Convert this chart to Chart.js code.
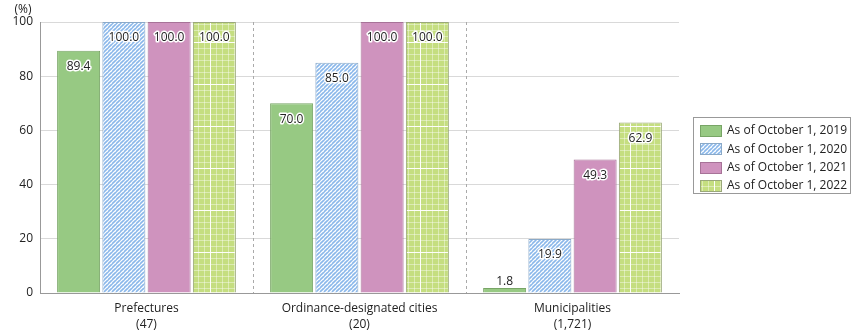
<!DOCTYPE html>
<html>
<head>
<meta charset="utf-8">
<script src="https://cdn.jsdelivr.net/npm/chart.js@4"></script>
<style>
  body { margin: 0; background: #fff; }
  #wrap { width: 855px; height: 333px; }
</style>
</head>
<body>
<div id="wrap"><canvas id="myChart" width="855" height="333"></canvas></div>
<script>
// data
const categories = [['Prefectures', '(47)'], ['Ordinance-designated cities', '(20)'], ['Municipalities', '(1,721)']];
const seriesNames = ['As of October 1, 2019', 'As of October 1, 2020', 'As of October 1, 2021', 'As of October 1, 2022'];
const values2019 = [89.4, 70.0, 1.8];
const values2020 = [100.0, 85.0, 19.9];
const values2021 = [100.0, 100.0, 49.3];
const values2022 = [100.0, 100.0, 62.9];
const yTicks = [0, 20, 40, 60, 80, 100];

const FONT = '"Open Sans", "Noto Sans", sans-serif';

// hatched blue pattern
function makeStripes() {
    const c = document.createElement('canvas');
    c.width = 4; c.height = 4;
    const g = c.getContext('2d');
    g.fillStyle = '#ffffff';
    g.fillRect(0, 0, 4, 4);
    g.strokeStyle = '#8ab7ea';
    g.lineWidth = 1.6;
    for (let k = -4; k <= 8; k += 4) {
        g.beginPath();
        g.moveTo(k - 4, 4);
        g.lineTo(k + 4, -4);
        g.stroke();
    }
    return g.createPattern(c, 'repeat');
}

// lime grid pattern
function makeGrid() {
    const c = document.createElement('canvas');
    c.width = 42; c.height = 42;
    const g = c.getContext('2d');
    g.fillStyle = '#c5de80';
    g.fillRect(0, 0, 42, 42);
    g.fillStyle = 'rgba(255,255,255,0.4)';
    for (let i = 0; i < 42; i += 6) {
        g.fillRect(i, 0, 1, 42);
        g.fillRect(0, i, 42, 1);
    }
    g.fillStyle = 'rgba(255,255,255,0.95)';
    g.fillRect(0, 0, 1, 42);
    g.fillRect(0, 0, 42, 1);
    return g.createPattern(c, 'repeat');
}

const fills = ['#97c983', makeStripes(), '#cf93be', makeGrid()];
const borders = ['#78a566', '#8aa9c8', '#a77398', '#9aa87a'];
const seriesValues = [values2019, values2020, values2021, values2022];

const labelPlugin = {
    id: 'barLabels',
    afterDatasetsDraw(chart) {
        const ctx = chart.ctx;
        ctx.save();
        ctx.font = '12px ' + FONT;
        ctx.textAlign = 'center';
        ctx.textBaseline = 'middle';
        ctx.lineJoin = 'round';
        chart.data.datasets.forEach((ds, di) => {
            chart.getDatasetMeta(di).data.forEach((bar, i) => {
                const txt = ds.data[i].toFixed(1);
                const h = bar.base - bar.y;
                const y = h < 22 ? bar.y - 7 : bar.y + 16;
                ctx.strokeStyle = '#fff';
                ctx.lineWidth = 3;
                ctx.strokeText(txt, bar.x, y);
                ctx.fillStyle = '#222';
                ctx.fillText(txt, bar.x, y);
            });
        });
        ctx.restore();
    }
};

const decoPlugin = {
    id: 'deco',
    beforeDatasetsDraw(chart) {
        const ctx = chart.ctx;
        const a = chart.chartArea;
        const xs = chart.scales.x;
        ctx.save();
        ctx.strokeStyle = '#aaa';
        ctx.lineWidth = 1;
        ctx.setLineDash([3, 3]);
        for (let i = 1; i < categories.length; i++) {
            const x = Math.round((xs.getPixelForTick(i - 1) + xs.getPixelForTick(i)) / 2) + 0.5;
            ctx.beginPath();
            ctx.moveTo(x, a.top);
            ctx.lineTo(x, a.bottom);
            ctx.stroke();
        }
        ctx.restore();
    },
    afterDraw(chart) {
        const ctx = chart.ctx;
        ctx.save();
        ctx.font = '12px ' + FONT;
        ctx.fillStyle = '#222';
        ctx.textAlign = 'center';
        ctx.textBaseline = 'middle';
        ctx.fillText('(%)', 23, 10);

        // legend box
        ctx.strokeStyle = '#999';
        ctx.lineWidth = 1;
        ctx.strokeRect(693.5, 117.5, 157, 76);
        ctx.textAlign = 'left';
        seriesNames.forEach((name, i) => {
            const y = 131 + i * 18.3;
            ctx.fillStyle = fills[i];
            ctx.fillRect(700, Math.round(y - 6), 22, 12);
            ctx.strokeStyle = borders[i];
            ctx.strokeRect(700.5, Math.round(y - 6) + 0.5, 21, 11);
            ctx.fillStyle = '#222';
            ctx.fillText(name, 727, y);
        });
        ctx.restore();
    }
};

new Chart(document.getElementById('myChart'), {
    type: 'bar',
    data: {
        labels: categories,
        datasets: seriesNames.map((name, i) => ({
            label: name,
            data: seriesValues[i],
            backgroundColor: fills[i],
            borderColor: borders[i],
            borderWidth: 1,
            categoryPercentage: 0.85,
            barPercentage: 0.95
        }))
    },
    options: {
        responsive: false,
        devicePixelRatio: 1,
        animation: false,
        layout: { padding: { left: 0, top: 22, right: 176, bottom: 0 } },
        plugins: {
            legend: { display: false },
            tooltip: { enabled: false }
        },
        scales: {
            x: {
                grid: { display: false },
                border: { color: '#999' },
                ticks: {
                    color: '#222',
                    font: { family: FONT, size: 12, lineHeight: 1.3 },
                    padding: 0,
                    maxRotation: 0
                },
                afterFit(scale) { scale.height = 40; }
            },
            y: {
                min: 0,
                max: 100,
                grid: { color: '#d9d9d9', drawTicks: false },
                border: { color: '#999' },
                afterBuildTicks(scale) { scale.ticks = yTicks.map(v => ({ value: v })); },
                ticks: {
                    color: '#222',
                    font: { family: FONT, size: 12 },
                    padding: 7
                },
                afterFit(scale) { scale.width = 40; }
            }
        }
    },
    plugins: [labelPlugin, decoPlugin]
});
</script>
</body>
</html>
